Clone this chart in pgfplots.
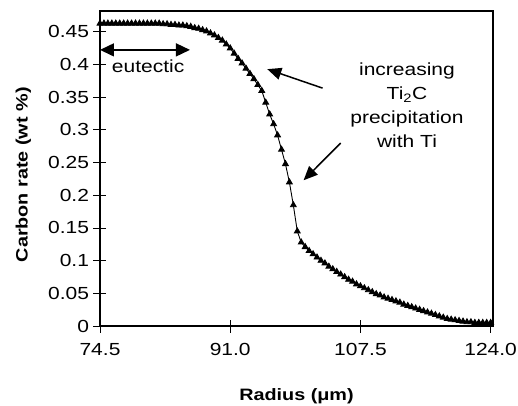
\documentclass[border=0pt]{standalone}
\usepackage{pgfplots}
\pgfplotsset{compat=1.18}
\usepackage{fontspec}
\setmainfont{Liberation Sans}[FakeStretch=1.2]
\usetikzlibrary{arrows.meta}
\begin{document}
\begin{tikzpicture}
\begin{axis}[
  name=ax,
  scale only axis,
  width=393bp, height=315bp,
  xmin=74.5, xmax=124.3,
  ymin=0, ymax=0.482,
  axis line style={line width=2.2bp},
  xtick={74.5,91.0,107.5,124.0},
  ytick={0,0.05,0.1,0.15,0.2,0.25,0.3,0.35,0.4,0.45},
  xticklabels={74.5,91.0,107.5,124.0},
  yticklabels={0,0.05,0.1,0.15,0.2,0.25,0.3,0.35,0.4,0.45},
  xtick pos=bottom, ytick pos=left,
  tick align=center,
  major tick length=13bp,
  tick style={black, line width=0.9bp},
  /pgf/number format/assume math mode=true,
  tick label style={font=\fontsize{17.5bp}{20bp}\selectfont},
  xticklabel style={yshift=-7bp},
  yticklabel style={xshift=-1bp},
  label style={font=\fontsize{16.5bp}{19bp}\selectfont\bfseries},
  xlabel={Radius (μm)},
  ylabel={Carbon rate (wt \%)},
  xlabel style={at={(axis description cs:0.5,-0.222)}, anchor=center},
  ylabel style={at={(axis description cs:-0.195,0.48)}, anchor=center},
  clip=false,
]
\addplot[black, line width=0.9bp, mark=triangle*, mark size=3.3bp, mark options={solid}] table {
x y
74.5 0.463
75.0 0.463
75.5 0.463
76.0 0.463
76.5 0.463
77.0 0.463
77.5 0.463
78.0 0.463
78.5 0.463
79.0 0.463
79.5 0.463
80.0 0.463
80.5 0.463
81.0 0.463
81.5 0.463
82.0 0.463
82.5 0.462
83.0 0.462
83.5 0.461
84.0 0.461
84.5 0.460
85.0 0.460
85.5 0.459
86.0 0.458
86.5 0.456
87.0 0.455
87.5 0.453
88.0 0.451
88.5 0.448
89.0 0.445
89.5 0.441
90.0 0.437
90.5 0.431
91.0 0.425
91.5 0.417
92.0 0.409
92.5 0.402
93.0 0.394
93.5 0.386
94.0 0.378
94.5 0.369
95.0 0.360
95.5 0.342
96.0 0.324
96.5 0.309
97.0 0.292
97.5 0.270
98.0 0.248
98.5 0.220
99.0 0.185
99.5 0.145
100.0 0.128
100.5 0.121
101.0 0.115
101.5 0.110
102.0 0.105
102.5 0.100
103.0 0.096
103.5 0.091
104.0 0.087
104.5 0.083
105.0 0.079
105.5 0.075
106.0 0.071
106.5 0.068
107.0 0.064
107.5 0.061
108.0 0.058
108.5 0.055
109.0 0.052
109.5 0.049
110.0 0.047
110.5 0.044
111.0 0.042
111.5 0.040
112.0 0.038
112.5 0.036
113.0 0.033
113.5 0.031
114.0 0.029
114.5 0.027
115.0 0.025
115.5 0.023
116.0 0.021
116.5 0.019
117.0 0.017
117.5 0.015
118.0 0.013
118.5 0.011
119.0 0.010
119.5 0.009
120.0 0.008
120.5 0.007
121.0 0.006
121.5 0.006
122.0 0.005
122.5 0.005
123.0 0.005
123.5 0.005
124.0 0.005
};
\draw[{Triangle[length=14bp,width=13bp]}-{Triangle[length=14bp,width=13bp]}, line width=1.5bp]
  (axis cs:74.5,0.4225) -- (axis cs:85.9,0.4225);
\node[font=\fontsize{17.5bp}{20bp}\selectfont] at (axis cs:80.6,0.397) {eutectic};
\node[font=\fontsize{17.5bp}{24bp}\selectfont, align=center]
  at (axis cs:113.4,0.338) {increasing\\Ti\textsubscript{2}C\\precipitation\\with Ti};
\draw[-{Triangle[length=14bp,width=12bp]}, line width=1.5bp]
  (axis cs:102.7,0.364) -- (axis cs:95.7,0.393);
\draw[-{Triangle[length=14bp,width=12bp]}, line width=1.5bp]
  (axis cs:105.0,0.280) -- (axis cs:100.3,0.223);
\end{axis}
\pgfresetboundingbox
\path[use as bounding box] ([shift={(-100bp,-80bp)}]ax.south west) rectangle ++(518bp,406bp);
\end{tikzpicture}
\end{document}
